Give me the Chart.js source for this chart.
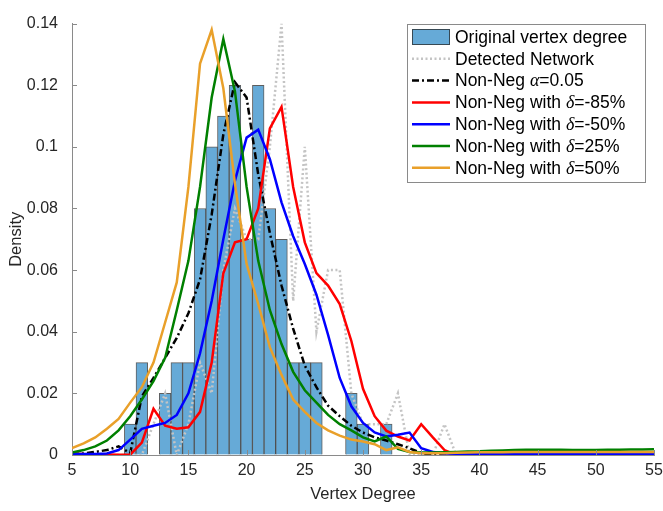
<!DOCTYPE html>
<html>
<head>
<meta charset="utf-8">
<script src="https://cdn.jsdelivr.net/npm/chart.js@4.4.1/dist/chart.umd.min.js"></script>
<style>
  html, body { margin: 0; padding: 0; background: #fff; }
</style>
</head>
<body>
<canvas id="myChart" width="663" height="511"></canvas>
<script>
// vertex degree axis for the fitted curves
var degrees = [5, 6, 7, 8, 9, 10, 11, 12, 13, 14, 15, 16, 17, 18, 19, 20, 21, 22, 23, 24, 25, 26, 27, 28, 29, 30,
  31, 32, 33, 34, 35, 36, 37, 38, 39, 40, 41, 42, 43, 44, 45, 46, 47, 48, 49, 50, 51, 52, 53, 54, 55];

// histogram of the original vertex degree
var barDegrees = [10, 11, 12, 13, 14, 15, 16, 17, 18, 19, 20, 21, 22, 23, 24, 25, 26, 27, 28, 29, 30, 31, 32];
var barDensity = [0.01, 0.03, 0, 0.02, 0.03, 0.03, 0.08, 0.10, 0.11, 0.12, 0.07, 0.12, 0.08, 0.07, 0.03, 0.03, 0.03,
  0, 0, 0.02, 0.01, 0, 0.01];

var detected = [0, 0, 0, 0, 0, 0, 0, 0.01, 0.02, 0, 0.01, 0.03, 0.02, 0.06, 0.08, 0.07, 0.07, 0.10, 0.14, 0.05,
  0.10, 0.04, 0.06, 0.06, 0.02, 0.01, 0.01, 0.01, 0.02, 0, 0, 0, 0.01, 0, 0, 0, 0, 0, 0, 0, 0, 0, 0, 0, 0, 0, 0, 0, 0, 0, 0];

var nonNeg = [0.0003, 0.0005, 0.001, 0.0016, 0.0028, 0.0006, 0.019, 0.025, 0.0315, 0.038, 0.046, 0.057, 0.078,
  0.104, 0.121, 0.116, 0.091, 0.072, 0.055, 0.041, 0.029, 0.022, 0.016, 0.0126, 0.0095, 0.0073, 0.0057, 0.0047,
  0.0035, 0.0022, 0.0006, 0, 0, 0, 0, 0, 0, 0, 0, 0, 0, 0, 0, 0, 0, 0, 0, 0, 0, 0, 0];

var deltaM85 = [0.0005, 0.0003, 0.0002, 0.0002, 0.0001, 0.0001, 0.004, 0.015, 0.0095, 0.0085, 0.009, 0.014, 0.030,
  0.059, 0.069, 0.070, 0.080, 0.106, 0.113, 0.087, 0.069, 0.059, 0.055, 0.049, 0.037, 0.0215, 0.0126, 0.0079,
  0.006, 0.0047, 0.010, 0.0057, 0.0016, 0, 0, 0, 0, 0, 0, 0, 0, 0, 0, 0, 0, 0, 0, 0, 0, 0, 0];

var deltaM50 = [0.0003, 0.0003, 0.0003, 0.0005, 0.0016, 0.005, 0.0085, 0.0095, 0.0104, 0.013, 0.020, 0.033, 0.050,
  0.070, 0.089, 0.103, 0.1056, 0.096, 0.082, 0.071, 0.062, 0.052, 0.039, 0.025, 0.0158, 0.0104, 0.0073, 0.006,
  0.0066, 0.0073, 0.0022, 0.001, 0.0005, 0.0003, 0.0003, 0.0003, 0.0003, 0.0003, 0.0003, 0.0003, 0.0003, 0.0003,
  0.0003, 0.0003, 0.0003, 0.0003, 0.0003, 0.0003, 0.0003, 0.0003, 0.0003];

var delta25 = [0.0008, 0.0016, 0.0028, 0.0047, 0.008, 0.0126, 0.018, 0.024, 0.0315, 0.047, 0.063, 0.087, 0.116,
  0.135, 0.118, 0.087, 0.063, 0.047, 0.036, 0.027, 0.021, 0.017, 0.013, 0.010, 0.008, 0.0057, 0.0044, 0.006,
  0.002, 0.001, 0.0008, 0.0008, 0.0009, 0.001, 0.0011, 0.0012, 0.0014, 0.0015, 0.0016, 0.0017, 0.0017, 0.0017,
  0.0017, 0.0016, 0.0016, 0.0016, 0.0017, 0.0017, 0.0018, 0.0018, 0.0019];

var delta50 = [0.0022, 0.0038, 0.0057, 0.0085, 0.0117, 0.017, 0.022, 0.030, 0.043, 0.056, 0.087, 0.127, 0.138,
  0.119, 0.088, 0.062, 0.049, 0.035, 0.026, 0.018, 0.014, 0.0104, 0.008, 0.0063, 0.005, 0.0044, 0.0035, 0.0016,
  0.0025, 0.001, 0.0006, 0.0006, 0.0006, 0.0007, 0.0008, 0.0009, 0.0009, 0.0009, 0.001, 0.001, 0.001, 0.001,
  0.001, 0.001, 0.001, 0.001, 0.001, 0.001, 0.001, 0.001, 0.001];

var xTicks = [5, 10, 15, 20, 25, 30, 35, 40, 45, 50, 55];
var yTicks = [0, 0.02, 0.04, 0.06, 0.08, 0.1, 0.12, 0.14];

var fontFamily = "'Liberation Sans', Arial, Helvetica, sans-serif";
var barFill = "rgb(102,170,215)";
var barEdge = "rgba(40,40,40,0.75)";
var axisGrey = "#8a8a8a";

function toPoints(xs, ys, dropZero) {
  var pts = [];
  xs.forEach(function (x, i) {
    pts.push({ x: x, y: dropZero && ys[i] === 0 ? null : ys[i] });
  });
  return pts;
}

function lineSet(label, values, color, dash, width, order) {
  return {
    type: "line",
    label: label,
    data: toPoints(degrees, values, false),
    borderColor: color,
    borderWidth: width,
    borderDash: dash,
    pointRadius: 0,
    tension: 0,
    fill: false,
    order: order,
  };
}

// ticks pointing into the plot like the original figure
var inwardTicks = {
  id: "inwardTicks",
  afterDatasetsDraw: function (chart) {
    var ctx = chart.ctx;
    var xs = chart.scales.x;
    var ys = chart.scales.y;
    var area = chart.chartArea;
    ctx.save();
    ctx.strokeStyle = axisGrey;
    ctx.lineWidth = 1;
    ctx.beginPath();
    xs.ticks.forEach(function (t) {
      var px = Math.round(xs.getPixelForValue(t.value)) + 0.5;
      ctx.moveTo(px, area.bottom);
      ctx.lineTo(px, area.bottom - 5);
    });
    ys.ticks.forEach(function (t) {
      var py = Math.round(ys.getPixelForValue(t.value)) + 0.5;
      ctx.moveTo(area.left, py);
      ctx.lineTo(area.left + 5, py);
    });
    ctx.stroke();
    ctx.restore();
  },
};

// boxed legend, greek symbols in italic serif
var boxLegend = {
  id: "boxLegend",
  afterDraw: function (chart) {
    var ctx = chart.ctx;
    var left = 407, top = 24, width = 238, height = 158, rowH = 21.8;
    ctx.save();
    ctx.fillStyle = "#fff";
    ctx.fillRect(left, top, width, height);
    ctx.strokeStyle = axisGrey;
    ctx.lineWidth = 1;
    ctx.strokeRect(left + 0.5, top + 0.5, width, height);

    chart.data.datasets.forEach(function (ds, i) {
      var cy = top + 13 + i * rowH;
      if (ds.type === "bar") {
        ctx.fillStyle = ds.backgroundColor;
        ctx.fillRect(412, cy - 8, 38, 16);
        ctx.strokeStyle = ds.borderColor;
        ctx.lineWidth = 1;
        ctx.strokeRect(412.5, cy - 7.5, 37, 15);
      } else {
        ctx.strokeStyle = ds.borderColor;
        ctx.lineWidth = ds.borderWidth;
        ctx.setLineDash(ds.borderDash || []);
        ctx.beginPath();
        ctx.moveTo(412, cy);
        ctx.lineTo(450, cy);
        ctx.stroke();
        ctx.setLineDash([]);
      }
      var x = 455;
      ctx.fillStyle = "#000";
      ctx.textBaseline = "middle";
      ds.label.split(/([αδ])/).forEach(function (part) {
        if (!part) return;
        if (part === "α" || part === "δ") {
          ctx.font = "italic 18px 'Liberation Serif', 'DejaVu Serif', serif";
        } else {
          ctx.font = "17.5px " + fontFamily;
        }
        ctx.fillText(part, x, cy + 1);
        x += ctx.measureText(part).width;
      });
    });
    ctx.restore();
  },
};

new Chart("myChart", {
  type: "bar",
  data: {
    datasets: [
      {
        type: "bar",
        label: "Original vertex degree",
        data: toPoints(barDegrees, barDensity, true),
        backgroundColor: barFill,
        borderColor: barEdge,
        borderWidth: 1,
        barPercentage: 1,
        categoryPercentage: 1,
        order: 10,
      },
      lineSet("Detected Network", detected, "#c4c4c4", [2, 2.5], 2.5, 6),
      lineSet("Non-Neg α=0.05", nonNeg, "#000000", [7, 3, 2, 3], 2.5, 5),
      lineSet("Non-Neg with δ=-85%", deltaM85, "#ff0000", [], 2.5, 4),
      lineSet("Non-Neg with δ=-50%", deltaM50, "#0000ff", [], 2.5, 3),
      lineSet("Non-Neg with δ=25%", delta25, "#008000", [], 2.5, 2),
      lineSet("Non-Neg with δ=50%", delta50, "#e9a02a", [], 2.5, 1),
    ],
  },
  options: {
    responsive: false,
    devicePixelRatio: 1,
    animation: false,
    layout: { padding: { top: 11, right: 9, left: 0, bottom: 0 } },
    plugins: {
      legend: { display: false },
      tooltip: { enabled: false },
    },
    scales: {
      x: {
        type: "linear",
        offset: false,
        min: 5,
        max: 55,
        afterBuildTicks: function (scale) {
          scale.ticks = xTicks.map(function (v) { return { value: v }; });
        },
        afterFit: function (scale) {
          scale.height = 56;
          scale.paddingRight = 0;
          scale.paddingLeft = 0;
        },
        grid: { display: true, offset: false, drawOnChartArea: false, drawTicks: false },
        border: { display: true, color: axisGrey, width: 1 },
        ticks: { font: { size: 16, family: fontFamily }, color: "#262626", padding: 6, maxRotation: 0 },
        title: {
          display: true,
          text: "Vertex Degree",
          color: "#262626",
          font: { size: 16.5, family: fontFamily },
          padding: { top: 0, bottom: 7 },
        },
      },
      y: {
        type: "linear",
        min: 0,
        max: 0.14,
        afterBuildTicks: function (scale) {
          scale.ticks = yTicks.map(function (v) { return { value: v }; });
        },
        afterFit: function (scale) { scale.width = 72; },
        grid: { display: true, drawOnChartArea: false, drawTicks: false },
        border: { display: true, color: axisGrey, width: 1 },
        ticks: {
          font: { size: 16, family: fontFamily },
          color: "#262626",
          padding: 14,
          callback: function (v) { return String(+v.toFixed(2)); },
        },
        title: {
          display: true,
          text: "Density",
          color: "#262626",
          font: { size: 16.5, family: fontFamily },
          padding: { top: 7, bottom: 0 },
        },
      },
    },
  },
  plugins: [inwardTicks, boxLegend],
});
</script>
</body>
</html>
